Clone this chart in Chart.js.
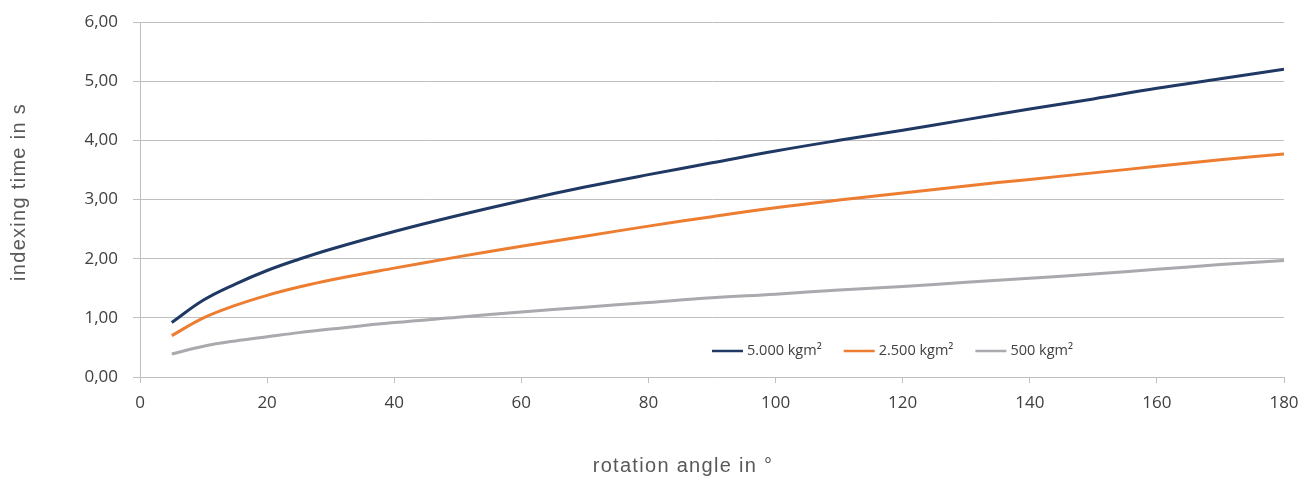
<!DOCTYPE html>
<html>
<head>
<meta charset="utf-8">
<script src="https://cdn.jsdelivr.net/npm/chart.js@4"></script>
<style>
  html, body { margin: 0; padding: 0; background: #ffffff; }
  #wrap { width: 1315px; height: 479px; position: relative; }
</style>
</head>
<body>
<div id="wrap"><canvas id="c"></canvas></div>
<script>
const angles = [5, 10, 15, 20, 25, 30, 40, 50, 60, 70, 80, 90, 100, 110, 120, 130, 140, 150, 160, 170, 180];
const series5000 = [0.92, 1.30, 1.57, 1.80, 1.99, 2.16, 2.46, 2.73, 2.98, 3.21, 3.42, 3.62, 3.82, 4.00, 4.17, 4.35, 4.53, 4.70, 4.88, 5.04, 5.20];
const series2500 = [0.70, 1.00, 1.21, 1.38, 1.52, 1.64, 1.84, 2.03, 2.21, 2.38, 2.55, 2.71, 2.86, 2.99, 3.11, 3.23, 3.34, 3.45, 3.56, 3.67, 3.77];
const series500  = [0.39, 0.52, 0.61, 0.68, 0.75, 0.81, 0.92, 1.01, 1.10, 1.18, 1.26, 1.34, 1.40, 1.47, 1.53, 1.60, 1.67, 1.74, 1.82, 1.90, 1.97];
const seriesLabels = ['5.000 kgm²', '2.500 kgm²', '500 kgm²'];
const xTitle = 'rotation angle in °';
const yTitle = 'indexing time in s';

const colors = ['#1f3864', '#ed7d31', '#a9a9ae'];
const toPts = arr => angles.map((a, i) => ({ x: a, y: arr[i] }));

const legendPlugin = {
  id: 'inlineLegend',
  afterDraw(chart) {
    const ctx = chart.ctx;
    ctx.save();
    ctx.font = '14.5px "Open Sans"';
    ctx.textBaseline = 'middle';
    ctx.fillStyle = '#404040';
    let x = 712;
    const y = 351;
    chart.data.datasets.forEach(ds => {
      ctx.strokeStyle = ds.borderColor;
      ctx.lineWidth = 2.5;
      ctx.beginPath();
      ctx.moveTo(x, y);
      ctx.lineTo(x + 31, y);
      ctx.stroke();
      x += 35;
      ctx.textAlign = 'left';
      ctx.fillText(ds.label, x, y);
      x += ctx.measureText(ds.label).width + 22;
    });
    ctx.restore();
  }
};

const titlePlugin = {
  id: 'axisTitles',
  afterDraw(chart) {
    const ctx = chart.ctx;
    ctx.save();
    ctx.fillStyle = '#595959';
    ctx.font = '20px "Liberation Sans"';
    ctx.letterSpacing = '1.3px';
    ctx.textAlign = 'center';
    ctx.textBaseline = 'middle';
    ctx.fillText(xTitle, 683, 466);
    ctx.translate(19, 192);
    ctx.rotate(-Math.PI / 2);
    ctx.fillText(yTitle, 0, 0);
    ctx.restore();
  }
};

new Chart(document.getElementById('c'), {
  type: 'line',
  data: {
    datasets: [
      { label: seriesLabels[0], data: toPts(series5000), borderColor: colors[0] },
      { label: seriesLabels[1], data: toPts(series2500), borderColor: colors[1] },
      { label: seriesLabels[2], data: toPts(series500), borderColor: colors[2] }
    ].map(d => Object.assign(d, { borderWidth: 3, pointRadius: 0, fill: false, tension: 0.4 }))
  },
  options: {
    responsive: true,
    maintainAspectRatio: false,
    animation: false,
    layout: { padding: { top: 22, right: 31, left: 0, bottom: 0 } },
    plugins: { legend: { display: false }, tooltip: { enabled: false } },
    scales: {
      x: {
        type: 'linear',
        min: 0, max: 180,
        afterFit(s) { s.height = 102; s.paddingLeft = 0; s.paddingRight = 0; },
        ticks: { stepSize: 20, color: '#404040', font: { family: 'Open Sans', size: 17 }, padding: 10, maxRotation: 0 },
        grid: { drawOnChartArea: false, drawTicks: true, tickLength: 6, color: '#bfbfbf' },
        border: { display: true, color: '#bfbfbf', width: 1 }
      },
      y: {
        min: 0, max: 6,
        afterFit(s) { s.width = 140; s.paddingTop = 0; s.paddingBottom = 0; },
        ticks: { stepSize: 1, color: '#404040', font: { family: 'Open Sans', size: 17 }, padding: 15,
                 callback: v => v.toFixed(2).replace('.', ',') },
        grid: { color: '#bfbfbf', lineWidth: 1, drawTicks: true, tickLength: 7 },
        border: { display: true, color: '#bfbfbf', width: 1 }
      }
    }
  },
  plugins: [legendPlugin, titlePlugin]
});
</script>
</body>
</html>
